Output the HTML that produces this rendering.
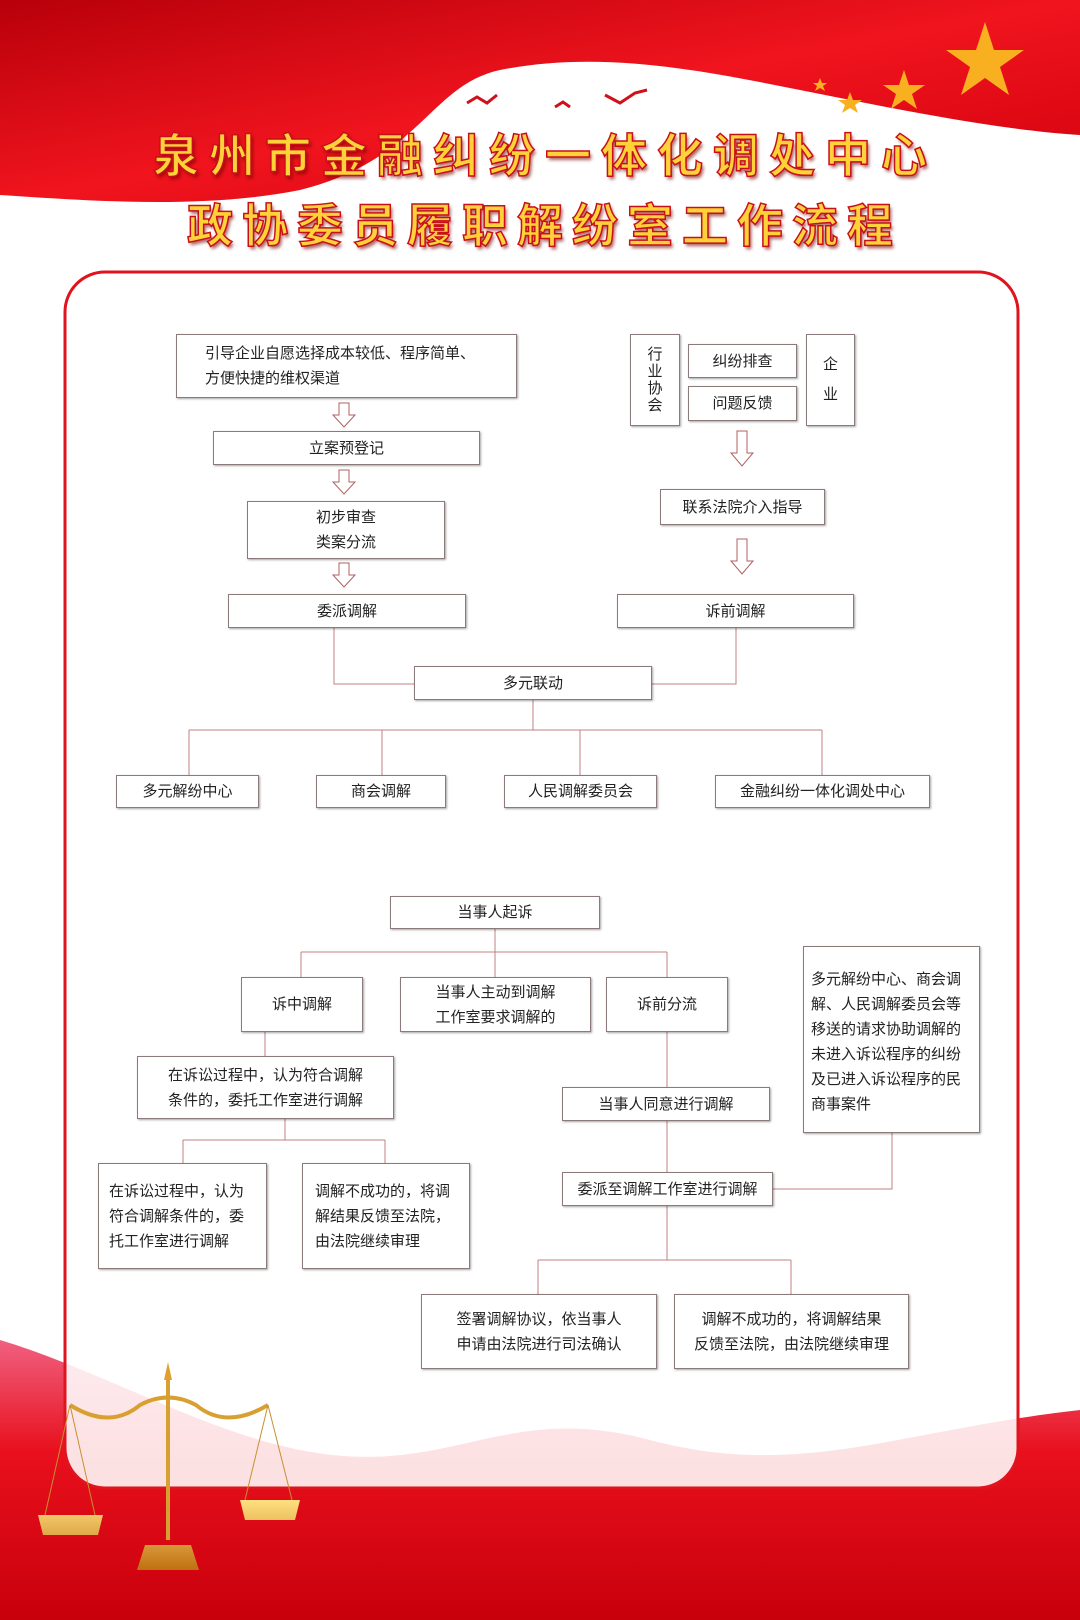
<!DOCTYPE html>
<html><head><meta charset="utf-8"><style>
body{margin:0;width:1080px;height:1620px;position:relative;overflow:hidden;background:#fff;font-family:"Liberation Sans","Noto Sans CJK SC",sans-serif}
.b{position:absolute;border:1px solid #8a7a7a;background:#fff;box-shadow:1px 1px 2px rgba(0,0,0,.35);display:flex;align-items:center;justify-content:center;text-align:center;font-size:15px;color:#222;box-sizing:border-box;line-height:25px}
.l{justify-content:flex-start;text-align:left;padding-left:10px}
.t{position:absolute;left:0;width:1080px;text-align:center;font-weight:bold;font-size:46px;color:#ffd23a;-webkit-text-stroke:1.5px #c8101a;text-shadow:2px 3px 3px rgba(120,0,0,.6);font-family:"Noto Sans CJK SC",sans-serif}
svg{position:absolute;left:0;top:0}
</style></head><body>
<svg width="1080" height="1620">
<defs>
<linearGradient id="r1" x1="0" y1="0" x2="1" y2="1"><stop offset="0" stop-color="#b8000a"/><stop offset=".5" stop-color="#f0141e"/><stop offset="1" stop-color="#d0000c"/></linearGradient>
<linearGradient id="r2" x1="0" y1="0" x2="0" y2="1"><stop offset="0" stop-color="#f06080"/><stop offset=".4" stop-color="#e8101c"/><stop offset="1" stop-color="#c8000c"/></linearGradient>
<linearGradient id="g" x1="0" y1="0" x2="0" y2="1"><stop offset="0" stop-color="#ffe080"/><stop offset="1" stop-color="#c07010"/></linearGradient>
</defs>
<path d="M0 0H1080V135C1000 130 900 110 800 90C700 70 600 50 500 70C430 85 420 160 300 190C200 210 80 200 0 195Z" fill="url(#r1)"/>
<path d="M0 1340C100 1370 200 1430 300 1450C450 1480 500 1400 650 1440C800 1480 900 1430 1080 1410V1620H0Z" fill="url(#r2)"/>
<rect x="65" y="272" width="953" height="1216" rx="40" fill="#fff" fill-opacity=".88" stroke="#e0141e" stroke-width="3"/>
<polygon points="985,22 994,50 1024,50 1000,67 1009,95 985,78 961,95 970,67 946,50 976,50" fill="#f8b020"/>
<polygon points="904,70 909,85 925,85 912,94 917,109 904,100 891,109 896,94 883,85 899,85" fill="#f8b020"/>
<polygon points="850,92 853,100 862,100 855,105 858,113 850,108 842,113 845,105 838,100 847,100" fill="#f8b020"/>
<polygon points="820,78 822,83 827,83 823,86 825,91 820,88 815,91 817,86 813,83 818,83" fill="#f8b020"/>
<g stroke="#d0101a" stroke-width="3" fill="none"><path d="M467 103l10-6 10 6 10-8"/><path d="M555 107l8-5 7 5"/><path d="M605 95l15 8 15-10 12-3"/></g>
<g stroke="#c08080" stroke-width="1" fill="none">
<path d="M334 628V684H414M736 628V684H652M533 700V730M189 730H822M189 730V775M382 730V775M580 730V775M822 730V775"/>
<path d="M495 929V952M301 952H667M301 952V977M495 952V977M667 952V977"/>
<path d="M265 1032V1056M285 1119V1140M183 1140H385M183 1140V1163M385 1140V1163"/>
<path d="M667 1032V1087M667 1121V1172M892 1133V1189H773M667 1206V1260M538 1260H791M538 1260V1294M791 1260V1294"/>
</g>
<g fill="#fff" stroke="#b06060" stroke-width="1">
<path d="M339 403h10v12h6l-11 12-11-12h6z"/><path d="M339 470h10v12h6l-11 12-11-12h6z"/><path d="M339 563h10v12h6l-11 12-11-12h6z"/>
<path d="M737 431h10v22h6l-11 13-11-13h6z"/><path d="M737 539h10v22h6l-11 13-11-13h6z"/>
</g>
</svg>
<div class="t" style="top:120px;letter-spacing:10px;text-indent:10px">泉州市金融纠纷一体化调处中心</div>
<div class="t" style="top:190px;letter-spacing:9px;text-indent:9px">政协委员履职解纷室工作流程</div>
<div class="b l" style="left:176px;top:334px;width:341px;height:64px;padding-left:28px">引导企业自愿选择成本较低、程序简单、<br>方便快捷的维权渠道</div>
<div class="b" style="left:213px;top:431px;width:267px;height:34px">立案预登记</div>
<div class="b" style="left:247px;top:501px;width:198px;height:58px">初步审查<br>类案分流</div>
<div class="b" style="left:228px;top:594px;width:238px;height:34px">委派调解</div>
<div class="b" style="left:630px;top:334px;width:50px;height:92px;line-height:17px">行<br>业<br>协<br>会</div>
<div class="b" style="left:688px;top:344px;width:109px;height:34px">纠纷排查</div>
<div class="b" style="left:688px;top:386px;width:109px;height:35px">问题反馈</div>
<div class="b" style="left:806px;top:334px;width:49px;height:92px;line-height:30px">企<br>业</div>
<div class="b" style="left:660px;top:489px;width:165px;height:36px">联系法院介入指导</div>
<div class="b" style="left:617px;top:594px;width:237px;height:34px">诉前调解</div>
<div class="b" style="left:414px;top:666px;width:238px;height:34px">多元联动</div>
<div class="b" style="left:116px;top:775px;width:143px;height:33px">多元解纷中心</div>
<div class="b" style="left:316px;top:775px;width:130px;height:33px">商会调解</div>
<div class="b" style="left:504px;top:775px;width:153px;height:33px">人民调解委员会</div>
<div class="b" style="left:715px;top:775px;width:215px;height:33px">金融纠纷一体化调处中心</div>
<div class="b" style="left:390px;top:896px;width:210px;height:33px">当事人起诉</div>
<div class="b" style="left:241px;top:977px;width:122px;height:55px">诉中调解</div>
<div class="b" style="left:400px;top:977px;width:191px;height:55px">当事人主动到调解<br>工作室要求调解的</div>
<div class="b" style="left:606px;top:977px;width:122px;height:55px">诉前分流</div>
<div class="b l" style="left:803px;top:946px;width:177px;height:187px;padding:20px 12px 0 7px;align-items:flex-start">多元解纷中心、商会调解、人民调解委员会等移送的请求协助调解的未进入诉讼程序的纠纷及已进入诉讼程序的民商事案件</div>
<div class="b" style="left:137px;top:1056px;width:257px;height:63px">在诉讼过程中，认为符合调解<br>条件的，委托工作室进行调解</div>
<div class="b l" style="left:98px;top:1163px;width:169px;height:106px;padding:0 12px 0 10px">在诉讼过程中，认为符合调解条件的，委托工作室进行调解</div>
<div class="b l" style="left:302px;top:1163px;width:168px;height:106px;padding:0 14px 0 12px">调解不成功的，将调解结果反馈至法院，由法院继续审理</div>
<div class="b" style="left:562px;top:1087px;width:208px;height:34px">当事人同意进行调解</div>
<div class="b" style="left:562px;top:1172px;width:211px;height:34px">委派至调解工作室进行调解</div>
<div class="b" style="left:421px;top:1294px;width:236px;height:75px">签署调解协议，依当事人<br>申请由法院进行司法确认</div>
<div class="b" style="left:674px;top:1294px;width:235px;height:75px">调解不成功的，将调解结果<br>反馈至法院，由法院继续审理</div>
<svg width="1080" height="1620" style="pointer-events:none">
<g stroke="#d8a030" stroke-width="4" fill="none"><path d="M168 1370V1540"/><path d="M70 1405Q110 1430 140 1405Q168 1390 196 1405Q226 1430 268 1405"/></g>
<g stroke="#c89030" stroke-width="1" fill="none"><path d="M70 1405L45 1515M70 1405L95 1515M268 1405L245 1500M268 1405L292 1500"/></g>
<path d="M38 1515h65l-5 20h-55z M240 1500h60l-5 20h-50z M145 1545h46l8 25h-62z" fill="url(#g)"/>
<polygon points="168,1362 172,1380 164,1380" fill="#e0a030"/>
</svg>
</body></html>
